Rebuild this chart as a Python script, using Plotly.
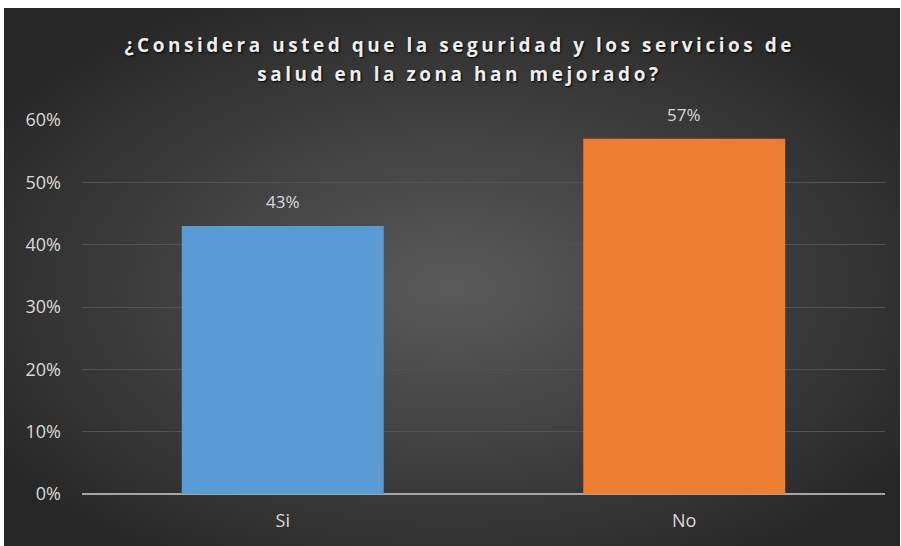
import base64
import plotly.graph_objects as go

# ---- data ----
categories = ["Si", "No"]
values = [0.43, 0.57]
value_labels = ["43%", "57%"]
bar_colors = ["#5b9bd5", "#ed7d31"]
title_lines = ["¿Considera usted que la seguridad y los servicios de",
               "salud en la zona han mejorado?"]
y_tick_vals = [0, 0.1, 0.2, 0.3, 0.4, 0.5, 0.6]
y_tick_text = ["0%", "10%", "20%", "30%", "40%", "50%", "60%"]

W, H = 901, 546
ML, MR, MT, MB = 82, 16, 120, 52
PW, PH = W - ML - MR, H - MT - MB

# radial gradient background (Excel style) as an SVG layout image
svg = f'''<svg xmlns="http://www.w3.org/2000/svg" width="{W}" height="{H}">
<defs><radialGradient id="g" cx="50%" cy="52%" r="62%">
<stop offset="0%" stop-color="#5a5a5a"/><stop offset="100%" stop-color="#262626"/>
</radialGradient></defs>
<rect x="0" y="0" width="{W}" height="{H}" fill="#ffffff"/>
<rect x="4" y="8" width="{W-5}" height="{H-8}" fill="url(#g)"/>
</svg>'''
src = "data:image/svg+xml;base64," + base64.b64encode(svg.encode()).decode()

fig = go.Figure()
fig.add_trace(go.Bar(
    x=categories, y=values,
    marker=dict(color=bar_colors, line=dict(width=0)),
    width=0.503,
    hoverinfo="skip",
))

for c, v, t in zip(categories, values, value_labels):
    fig.add_annotation(x=c, y=v, text=t, showarrow=False, yshift=24,
                       font=dict(family="Open Sans", size=17, color="#d9d9d9"))

title_y = [45, 74]
for line, py in zip(title_lines, title_y):
    fig.add_annotation(xref="paper", yref="paper", x=(W / 2 - ML) / PW, xshift=9,
                       y=1 + (MT - py) / PH, text=line, showarrow=False,
                       xanchor="center", yanchor="middle",
                       font=dict(family="Open Sans", size=19, color="#eeeeee", weight="bold",
                                 shadow="1px 1px 2px #000000"))

fig.add_layout_image(dict(source=src, xref="paper", yref="paper",
                          x=-ML / PW, y=1 + MT / PH, sizex=W / PW, sizey=H / PH,
                          xanchor="left", yanchor="top", sizing="stretch", layer="below"))

fig.update_layout(
    width=W, height=H,
    margin=dict(l=ML, r=MR, t=MT, b=MB),
    paper_bgcolor="#262626", plot_bgcolor="rgba(0,0,0,0)",
    showlegend=False,
    xaxis=dict(showgrid=False, showline=False, ticks="", zeroline=False,
               ticklabelstandoff=14,
               tickfont=dict(family="Open Sans", size=18, color="#d9d9d9")),
    yaxis=dict(range=[0, 0.6], tickvals=y_tick_vals, ticktext=y_tick_text,
               showgrid=True, gridcolor="#525252", gridwidth=1,
               zeroline=True, zerolinecolor="#a6a6a6", zerolinewidth=2,
               showline=False, ticks="", ticklen=0, ticklabelstandoff=20,
               tickfont=dict(family="Open Sans", size=18, color="#d9d9d9")),
)

post = """
var gd = document.getElementById('{plot_id}');
function spaceTitle(){
  var t1 = null, t2 = null;
  gd.querySelectorAll('text.annotation-text').forEach(function(t){
    var s = t.textContent;
    if (s.indexOf('\\u00bfConsidera') === 0) t1 = t;
    else if (s.indexOf('salud en') === 0) t2 = t;
  });
  if (!t1) return;
  t1.style.letterSpacing = '0px';
  var w = t1.getComputedTextLength();
  var n = t1.textContent.length;
  var ls = (667 - w) / (n - 1);
  [t1, t2].forEach(function(t){ if (t) t.style.letterSpacing = ls + 'px'; });
}
spaceTitle();
"""

fig.write_html("out.html", post_script=post)
